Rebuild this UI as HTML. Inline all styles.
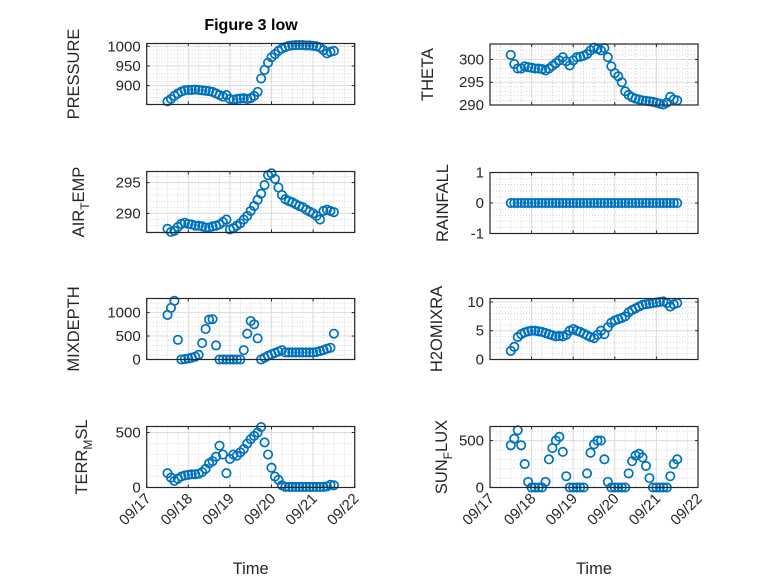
<!DOCTYPE html>
<html><head><meta charset="utf-8">
<style>
html,body{margin:0;padding:0;background:#fff;}
svg{display:block;font-family:"Liberation Sans",sans-serif;}
</style></head>
<body>
<svg id="fig" width="778" height="583" viewBox="0 0 778 583" xmlns="http://www.w3.org/2000/svg">
<rect x="0" y="0" width="778" height="583" fill="#fff"/>
<text x="251" y="30" text-anchor="middle" font-size="16" font-weight="bold" fill="#000">Figure 3 low</text>
</svg>
<script>
const times = [];
for (let i = 0; i < 49; i++) times.push(0.5 + i / 12);
const xTickLabels = ['09/17','09/18','09/19','09/20','09/21','09/22'];
const pressureVals = [860,866,874,880,885,888,889,889,890,889,888,887,886,884,880,876,872,876,866,864,866,867,868,866,868,874,884,918,940,958,972,980,988,994,998,1001,1002,1003,1003,1003,1002,1002,1001,1000,997,990,982,986,988];
const airTempVals = [287.5,287.0,287.2,287.8,288.3,288.5,288.3,288.2,288.0,288.0,287.9,287.7,287.7,287.9,288.0,288.2,288.6,289.0,287.4,287.6,288.0,288.4,289.0,289.6,290.4,291.2,292.2,293.2,294.6,296.2,296.5,295.6,294.2,293.0,292.3,292.0,291.8,291.5,291.2,291.0,290.6,290.3,290.0,289.6,289.0,290.4,290.6,290.4,290.2];
const mixDepthVals = [950,1100,1250,420,0,10,20,40,60,100,350,650,850,860,300,0,0,0,0,0,0,0,200,550,820,750,450,0,40,80,110,140,170,200,150,150,150,150,150,150,150,150,150,160,180,200,230,250,550];
const terrVals = [130,90,60,80,100,110,115,120,120,125,140,170,220,240,280,380,300,130,260,300,290,320,350,400,440,470,500,550,410,300,180,100,70,20,5,5,5,5,5,5,5,5,5,5,5,5,10,25,20];
const thetaVals = [301,299,298,298,298.5,298.3,298.2,298.0,298.0,297.9,297.6,298.0,298.6,299.2,299.8,300.5,299.6,298.7,299.8,300.5,300.6,300.8,301.2,302.0,302.6,302.3,302.0,302.5,300.5,298.5,297.0,296.3,295.0,293.0,292.2,291.7,291.4,291.2,291.0,290.9,290.8,290.7,290.5,290.3,290.1,290.5,291.8,291.2,291.0];
const rainVals = [0,0,0,0,0,0,0,0,0,0,0,0,0,0,0,0,0,0,0,0,0,0,0,0,0,0,0,0,0,0,0,0,0,0,0,0,0,0,0,0,0,0,0,0,0,0,0,0,0];
const h2oVals = [1.5,2.2,3.9,4.4,4.7,4.9,5.0,5.0,4.9,4.8,4.6,4.4,4.2,4.0,4.1,4.0,4.3,5.0,5.3,5.0,4.8,4.5,4.2,3.9,3.7,4.3,5.0,4.4,5.6,6.4,6.8,7.0,7.2,7.5,8.2,8.6,8.9,9.2,9.5,9.6,9.7,9.8,9.9,10.0,10.1,9.8,9.2,9.6,9.8];
const sunVals = [450,520,610,450,250,60,0,0,0,0,60,300,420,500,540,380,120,0,0,0,0,0,150,370,460,500,500,300,60,0,0,0,0,0,150,280,340,360,320,230,100,0,0,0,0,0,120,250,300];
const pressureTicks = [900,950,1000];
const airTempTicks = [290,295];
const mixDepthTicks = [0,500,1000];
const terrTicks = [0,500];
const thetaTicks = [290,295,300];
const rainTicks = [-1,0,1];
const h2oTicks = [0,5,10];
const sunTicks = [0,500];

const NS = 'http://www.w3.org/2000/svg';
const svg = document.getElementById('fig');
function mk(tag, attrs, parent){
  const e = document.createElementNS(NS, tag);
  for (const k in attrs) e.setAttribute(k, attrs[k]);
  (parent||svg).appendChild(e);
  return e;
}
const panels = [
  {key:'pressure', left:146.7, top:43.5, vals:pressureVals, ticks:pressureTicks, ymin:852, ymax:1007, minor:10, label:['PRESSURE'], lx:79},
  {key:'air-temp', left:146.7, top:171.5, vals:airTempVals, ticks:airTempTicks, ymin:286.9, ymax:296.8, minor:1, label:['AIR','T','EMP'], lx:84},
  {key:'mixdepth', left:146.7, top:298.5, vals:mixDepthVals, ticks:mixDepthTicks, ymin:0, ymax:1300, minor:100, label:['MIXDEPTH'], lx:79},
  {key:'terr-msl', left:146.7, top:426.5, vals:terrVals, ticks:terrTicks, ymin:0, ymax:555, minor:100, label:['TERR','M','SL'], lx:87},
  {key:'theta', left:490, top:44, vals:thetaVals, ticks:thetaTicks, ymin:290, ymax:303.4, minor:1, label:['THETA'], lx:433},
  {key:'rainfall', left:490, top:172.5, vals:rainVals, ticks:rainTicks, ymin:-1, ymax:1, minor:0.2, label:['RAINFALL'], lx:448},
  {key:'h2omixra', left:490, top:298.5, vals:h2oVals, ticks:h2oTicks, ymin:0, ymax:10.6, minor:1, label:['H2OMIXRA'], lx:442},
  {key:'sun-flux', left:490, top:426.5, vals:sunVals, ticks:sunTicks, ymin:0, ymax:650, minor:100, label:['SUN','F','LUX'], lx:447}
];
const W = 208, H = 61, XMIN = 0, XMAX = 5;
panels.forEach(p => {
  const g = mk('g', {});
  
  
  const xs = t => p.left + (t - XMIN) / (XMAX - XMIN) * W;
  const ys = v => p.top + H - (v - p.ymin) / (p.ymax - p.ymin) * H;
  mk('rect', {x:p.left, y:p.top, width:W, height:H, fill:'#fff'}, g);
  for (let t = XMIN; t <= XMAX + 1e-9; t += 0.25) {
    if (Math.abs(t - Math.round(t)) < 1e-6) continue;
    mk('line', {x1:xs(t), x2:xs(t), y1:p.top, y2:p.top+H, stroke:'#c9c9c9', 'stroke-width':0.8, 'stroke-dasharray':'1,2'}, g);
  }
  const m0 = Math.ceil(p.ymin / p.minor) * p.minor;
  for (let v = m0; v <= p.ymax + 1e-9; v += p.minor) {
    const vv = Math.round(v / p.minor) * p.minor;
    if (p.ticks.some(t => Math.abs(t - vv) < 1e-6)) continue;
    mk('line', {x1:p.left, x2:p.left+W, y1:ys(vv), y2:ys(vv), stroke:'#c9c9c9', 'stroke-width':0.8, 'stroke-dasharray':'1,2'}, g);
  }
  for (let d = 0; d <= 5; d++) {
    const x = xs(d);
    mk('line', {x1:x, x2:x, y1:p.top, y2:p.top+H, stroke:'#dcdcdc', 'stroke-width':1}, g);
    mk('line', {x1:x, x2:x, y1:p.top+H, y2:p.top+H-3, stroke:'#262626', 'stroke-width':1}, g);
    mk('line', {x1:x, x2:x, y1:p.top, y2:p.top+3, stroke:'#262626', 'stroke-width':1}, g);
  }
  p.ticks.forEach(v => {
    const y = ys(v);
    mk('line', {x1:p.left, x2:p.left+W, y1:y, y2:y, stroke:'#dcdcdc', 'stroke-width':1}, g);
    mk('line', {x1:p.left, x2:p.left+3, y1:y, y2:y, stroke:'#262626', 'stroke-width':1}, g);
    mk('line', {x1:p.left+W, x2:p.left+W-3, y1:y, y2:y, stroke:'#262626', 'stroke-width':1}, g);
    const tl = mk('text', {x:p.left-6, y:y+5, 'text-anchor':'end', 'font-size':15, fill:'#262626'}, g);
    
    
    tl.textContent = String(v);
  });
  p.vals.forEach((v, i) => {
    const c = mk('circle', {cx:xs(times[i]), cy:ys(v), r:4.2, fill:'none', stroke:'#0072BD', 'stroke-width':1.7}, g);
    
    
  });
  mk('rect', {x:p.left, y:p.top, width:W, height:H, fill:'none', stroke:'#262626', 'stroke-width':1.2}, g);
  const cy = p.top + H/2;
  const lab = mk('text', {x:p.lx, y:cy, 'text-anchor':'middle', 'font-size':16.5, fill:'#262626', transform:'rotate(-90 '+p.lx+' '+cy+')'}, g);
  
  
  if (p.label.length === 1) lab.textContent = p.label[0];
  else {
    const a = mk('tspan', {}, lab); a.textContent = p.label[0];
    const b = mk('tspan', {dy:5, 'font-size':12}, lab); b.textContent = p.label[1];
    const c = mk('tspan', {dy:-5}, lab); c.textContent = p.label[2];
  }
  if (p.top > 400) {
    xTickLabels.forEach((s, d) => {
      const x = xs(d) + 5, y = p.top + H + 12;
      const t = mk('text', {x:x, y:y, 'text-anchor':'end', 'font-size':15, fill:'#262626', transform:'rotate(-45 '+x+' '+y+')'}, g);
      
      
      t.textContent = s;
    });
    const xt = mk('text', {x:p.left + W/2, y:574, 'text-anchor':'middle', 'font-size':16.5, fill:'#262626'}, g);
    
    
    xt.textContent = 'Time';
  }
});
</script>
</body></html>
